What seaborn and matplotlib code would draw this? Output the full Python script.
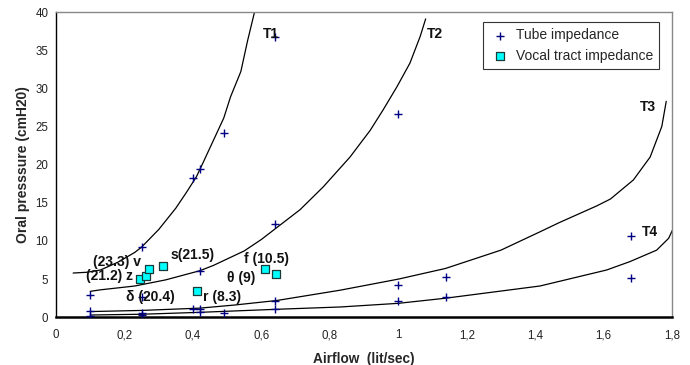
import matplotlib
matplotlib.use("Agg")
import matplotlib.pyplot as plt
import seaborn as sns
import pandas as pd

# ---------------- data ----------------
tube_x = [0.10, 0.10, 0.10, 0.25, 0.25, 0.25, 0.25, 0.40, 0.42, 0.49, 0.42,
          0.40, 0.42, 0.42, 0.49, 0.64, 0.64, 0.64, 0.64, 1.00, 1.00, 1.00,
          1.14, 1.14, 1.68, 1.68]
tube_y = [2.9, 0.8, 0.2, 9.2, 2.6, 0.6, 0.35, 18.2, 19.4, 24.2, 6.1,
          1.1, 1.1, 0.65, 0.55, 12.2, 2.1, 1.1, 36.7, 26.6, 4.2, 2.1,
          5.3, 2.6, 10.7, 5.1]

vocal_x = [0.245, 0.262, 0.271, 0.314, 0.411, 0.611, 0.643]
vocal_y = [5.0, 5.45, 6.3, 6.7, 3.4, 6.3, 5.7]

t1_x = [0.05, 0.09, 0.13, 0.18, 0.23, 0.25, 0.30, 0.35, 0.38, 0.41, 0.43, 0.46, 0.49, 0.51, 0.54, 0.56, 0.58]
t1_y = [5.8, 5.9, 6.2, 7.2, 8.5, 9.2, 11.5, 14.3, 16.3, 18.4, 20.3, 23.2, 26.1, 28.9, 32.2, 36.3, 40.0]

t2_x = [0.10, 0.13, 0.23, 0.32, 0.42, 0.46, 0.55, 0.60, 0.655, 0.713, 0.781, 0.859, 0.918, 0.956, 0.996, 1.034, 1.064, 1.08]
t2_y = [3.4, 3.6, 4.1, 4.9, 6.1, 6.8, 8.7, 10.2, 12.1, 14.1, 17.1, 21.0, 24.5, 27.2, 30.2, 33.3, 36.8, 39.1]

t3_x = [0.10, 0.25, 0.42, 0.52, 0.645, 0.83, 1.00, 1.138, 1.30, 1.414, 1.47, 1.52, 1.58, 1.62, 1.687, 1.736, 1.77, 1.783]
t3_y = [0.75, 0.9, 1.2, 1.6, 2.2, 3.55, 5.0, 6.4, 8.8, 11.2, 12.4, 13.4, 14.6, 15.5, 18.0, 21.0, 25.0, 28.3]

t4_x = [0.10, 0.25, 0.42, 0.645, 0.83, 1.00, 1.138, 1.414, 1.609, 1.677, 1.755, 1.79, 1.802]
t4_y = [0.3, 0.4, 0.65, 1.05, 1.35, 1.83, 2.5, 4.1, 6.2, 7.3, 8.8, 10.35, 11.5]

note_text = ["(23.3) v", "(21.2) z", "s(21.5)", "\u03b4 (20.4)", "r (8.3)", "\u03b8 (9)", "f (10.5)",
             "T1", "T2", "T3", "T4"]
note_x = [0.108, 0.088, 0.336, 0.205, 0.430, 0.499, 0.549, 0.605, 1.084, 1.707, 1.711]
note_y = [7.3, 5.45, 8.2, 2.6, 2.7, 5.1, 7.6, 37.1, 37.1, 27.6, 11.2]

xtick_vals = [0, 0.2, 0.4, 0.6, 0.8, 1.0, 1.2, 1.4, 1.6, 1.8]
xtick_labels = ["0", "0,2", "0,4", "0,6", "0,8", "1", "1,2", "1,4", "1,6", "1,8"]
ytick_vals = [0, 5, 10, 15, 20, 25, 30, 35, 40]

# ---------------- style ----------------
sns.set_style("white")
plt.rcParams['font.family'] = ['Liberation Sans', 'DejaVu Sans']

fig = plt.figure(figsize=(6.9, 3.65), dpi=100)
ax = fig.add_axes([0.0812, 0.1307, 0.8928, 0.8363])

curves = [(t1_x, t1_y), (t2_x, t2_y), (t3_x, t3_y), (t4_x, t4_y)]
for cx, cy in curves:
    dfc = pd.DataFrame({"x": cx, "y": cy})
    sns.lineplot(data=dfc, x="x", y="y", sort=False, estimator=None,
                 color="black", linewidth=0.9, ax=ax)

df_t = pd.DataFrame({"x": tube_x, "y": tube_y})
sns.scatterplot(data=df_t, x="x", y="y", marker="+", color="#000080",
                s=28, linewidth=1.0, ax=ax, label="Tube impedance", zorder=4)

df_v = pd.DataFrame({"x": vocal_x, "y": vocal_y})
sns.scatterplot(data=df_v, x="x", y="y", marker="s", color="#00FFFF",
                edgecolor="#1a3a3a", linewidth=0.9, s=38, ax=ax,
                label="Vocal tract impedance", zorder=5)

for t, x, y in zip(note_text, note_x, note_y):
    ax.text(x, y, t, ha="left", va="center", fontsize=10, fontweight="bold",
            color="#111111", zorder=6)

ax.set_xlim(0, 1.8)
ax.set_ylim(0, 40)
ax.set_xticks(xtick_vals)
ax.set_xticklabels(xtick_labels)
ax.set_yticks(ytick_vals)
ax.tick_params(axis="both", direction="inout", length=5, width=1,
               labelsize=8.3, colors="black", labelcolor="#222222")
ax.tick_params(axis="x", pad=6)
ax.tick_params(axis="y", pad=3)

for side in ["top", "right"]:
    ax.spines[side].set_visible(True)
    ax.spines[side].set_color("#888888")
    ax.spines[side].set_linewidth(1.0)
ax.spines["left"].set_color("black")
ax.spines["left"].set_linewidth(1.0)
ax.spines["bottom"].set_color("black")
ax.spines["bottom"].set_linewidth(1.8)

ax.set_xlabel("Airflow  (lit/sec)", fontsize=9.8, fontweight="bold", labelpad=8)
ax.set_ylabel("Oral presssure (cmH20)", fontsize=10, fontweight="bold", labelpad=4)

leg = ax.legend(loc="upper right", bbox_to_anchor=(0.979, 0.967), borderaxespad=0,
                fontsize=10, frameon=True, fancybox=False, handlelength=1.5,
                handletextpad=0.4, labelspacing=0.45, borderpad=0.45)
leg.get_frame().set_edgecolor("black")
leg.get_frame().set_linewidth(0.8)

fig.savefig("out.png", dpi=100)
